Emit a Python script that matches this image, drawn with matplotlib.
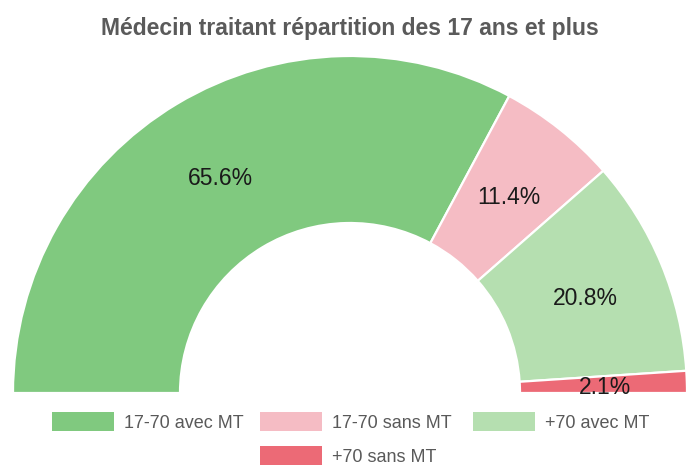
import numpy as np
import matplotlib
matplotlib.use("Agg")
import matplotlib.pyplot as plt
from matplotlib.patches import Patch

title = "Médecin traitant répartition des 17 ans et plus"
categories = ["17-70 avec MT", "17-70 sans MT", "+70 avec MT", "+70 sans MT"]
values = [65.6, 11.4, 20.8, 2.1]
colors = ["#80c97f", "#f5bcc4", "#b5dfb0", "#ec6a76"]

plt.rcParams['font.family'] = ['Liberation Sans', 'DejaVu Sans']

W, H = 689, 468
fig = plt.figure(figsize=(W / 100, H / 100), dpi=100)
ax = fig.add_axes([0, 0, 1, 1])

cx, cy = 350, H - 393
R = 337
r_in = 170
vals = np.array(values, dtype=float)
fracs = vals / vals.sum() / 2.0

wedges, _ = ax.pie(fracs, radius=R, center=(cx, cy), startangle=180,
                   counterclock=False, normalize=False, colors=colors,
                   wedgeprops=dict(width=R - r_in, edgecolor="white", linewidth=1.6))
ax.set_xlim(0, W)
ax.set_ylim(0, H)
ax.set_aspect("equal")
ax.axis("off")

rl = (R + r_in) / 2 + 0.5
for w, v in zip(wedges, values):
    th = np.deg2rad((w.theta1 + w.theta2) / 2)
    ax.text(cx + rl * np.cos(th) + 1, cy + rl * np.sin(th) - 3, f"{v:.1f}%",
            ha="center", va="center", fontsize=16.5, color="#1a1a1a")

ax.text(350, H - 28, title, ha="center", va="center", fontsize=16.5,
        fontweight="bold", color="#5a5a5a")

# legend: one legend per entry so that the layout matches (3 on row 1, 1 centred on row 2)
leg_pos = [(52, 422), (260, 422), (473, 422), (260, 456)]
for w, lab, (lx, ly) in zip(wedges, categories, leg_pos):
    h = Patch(facecolor=w.get_facecolor(), edgecolor="none")
    fig.legend([h], [lab], loc="center left",
               bbox_to_anchor=(lx / W, 1 - ly / H), frameon=False,
               borderpad=0, borderaxespad=0, handlelength=3.45,
               handleheight=1.25, handletextpad=0.55, fontsize=13,
               labelcolor="#595959")

fig.savefig("out.png", dpi=100, facecolor="white")
